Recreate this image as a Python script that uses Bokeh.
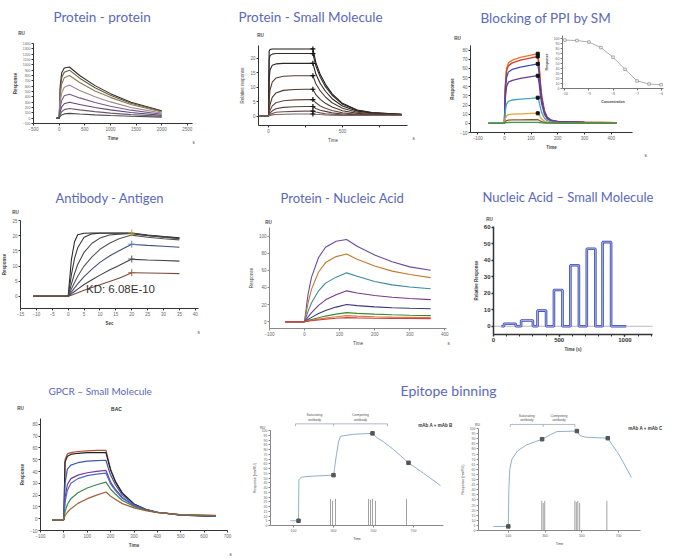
from bokeh.plotting import figure
from bokeh.models import Label, FixedTicker, Range1d, LinearAxis
from bokeh.embed import file_html
from bokeh.resources import INLINE

# ---------------- data ----------------
# Protein - protein
PP_T = [-50, 0, 20, 50, 100, 200, 400, 700, 1000, 1400, 2000]
PP_R = [
    [0, 0, 600, 850, 940, 960, 800, 610, 460, 300, 140],
    [0, 0, 520, 760, 860, 900, 750, 570, 430, 280, 130],
    [0, 0, 420, 640, 760, 800, 670, 510, 390, 255, 115],
    [0, 0, 300, 470, 580, 620, 520, 400, 305, 200, 95],
    [0, 0, 200, 330, 420, 450, 380, 295, 225, 150, 72],
    [0, 0, 120, 210, 270, 300, 255, 200, 155, 105, 52],
    [0, 0, 70, 120, 160, 180, 155, 122, 95, 66, 35],
    [0, 0, 35, 60, 80, 90, 78, 62, 50, 35, 20],
]
PP_COL = ["#2b2b2b", "#6b5a3a", "#8a7a5a", "#a08a8a", "#7a5a8a", "#5a4a7a", "#6a5a6a", "#4a4a4a"]

# Protein - Small Molecule
SM_T = [-60, 0, 4, 10, 25, 50, 100, 175, 250, 300, 320, 350, 385, 430, 500, 600, 700, 900]
SM_R = [
    [0, 0, 22.5, 23.1, 23.3, 23.3, 23.3, 23.3, 23.3, 23.3, 18.6, 14.4, 11.0, 7.7, 4.4, 2.1, 1.2, 0.6],
    [0, 0, 19.5, 21.0, 21.5, 21.7, 21.7, 21.7, 21.7, 21.7, 17.4, 13.5, 10.2, 7.2, 4.1, 2.0, 1.1, 0.6],
    [0, 0, 12.5, 16.0, 17.6, 18.1, 18.3, 18.3, 18.3, 18.3, 14.6, 11.3, 8.6, 6.0, 3.5, 1.7, 1.0, 0.5],
    [0, 0, 5.5, 9.0, 11.8, 13.2, 13.8, 14.0, 14.0, 14.0, 11.2, 8.7, 6.6, 4.6, 2.7, 1.3, 0.8, 0.5],
    [0, 0, 2.0, 4.0, 6.5, 8.0, 8.9, 9.2, 9.3, 9.3, 7.4, 5.8, 4.4, 3.1, 1.8, 0.9, 0.6, 0.4],
    [0, 0, 0.9, 2.0, 3.5, 4.6, 5.3, 5.6, 5.7, 5.7, 4.6, 3.5, 2.7, 1.9, 1.1, 0.6, 0.4, 0.3],
    [0, 0, 0.4, 1.0, 1.8, 2.5, 3.0, 3.2, 3.3, 3.3, 2.6, 2.0, 1.6, 1.1, 0.7, 0.4, 0.3, 0.3],
    [0, 0, 0.2, 0.5, 0.9, 1.3, 1.5, 1.6, 1.7, 1.7, 1.4, 1.1, 0.8, 0.6, 0.4, 0.3, 0.2, 0.2],
    [0, 0, 0.1, 0.2, 0.4, 0.5, 0.6, 0.7, 0.7, 0.7, 0.6, 0.5, 0.4, 0.3, 0.2, 0.2, 0.2, 0.2],
]
SM_COL = ["#1a1a1a", "#3a2a20", "#2a2a2a", "#5a3a2a", "#4a3a30", "#6a4a3a", "#5a4040", "#705050", "#806060"]
SM_END = 300

# Blocking of PPI by SM
PPI_T = [-60, 0, 3, 8, 15, 30, 60, 100, 125, 130, 135, 140, 150, 160, 175, 200, 300, 420]
PPI_R = [
    [0, 0, 40, 60, 66, 69, 72, 74.5, 76, 65, 45, 30, 14, 7, 3.5, 2, 1.2, 0.8],
    [0, 0, 38, 57, 63, 66, 69, 71.5, 73, 62, 43, 29, 13.5, 6.8, 3.4, 2, 1.2, 0.8],
    [0, 0, 33, 50, 56, 59, 61.5, 63.5, 65, 55, 38, 26, 12, 6, 3, 1.8, 1.1, 0.7],
    [0, 0, 26, 40, 45, 47, 49, 51, 52, 44, 30, 21, 9.8, 5, 2.6, 1.6, 1, 0.7],
    [0, 0, 13, 21, 24, 25.5, 26.5, 27.3, 28, 24, 17, 11.5, 5.5, 2.9, 1.6, 1.1, 0.8, 0.6],
    [0, 0, 5, 8, 9.5, 10, 10.4, 10.8, 11, 9.5, 6.8, 4.7, 2.4, 1.4, 0.9, 0.7, 0.6, 0.5],
    [0, 0, 1.8, 3, 3.5, 3.7, 3.8, 3.9, 4, 3.4, 2.5, 1.8, 1, 0.7, 0.5, 0.4, 0.4, 0.3],
    [0, 0, 0.5, 0.8, 0.9, 0.95, 1, 1, 1, 0.9, 0.7, 0.5, 0.4, 0.3, 0.3, 0.2, 0.2, 0.2],
]
PPI_COL = ["#e8762c", "#d03a2a", "#3a4fb8", "#6a3a9a", "#3aaabb", "#e8a23a", "#8a5a2a", "#3a9a4a"]
PPI_END = 125
INS_C = [-10, -9.5, -9, -8.5, -8, -7.5, -7, -6.5, -6]
INS_R = [96, 95, 92, 81, 62, 38, 15, 9, 7.5]

# Antibody - Antigen
AA_T = [-11, 0, 0.5, 1, 2, 3, 5, 7.5, 10, 13, 16, 20, 20.5, 25, 30, 35]
AA_R = [
    [0, 0, 6, 12, 18, 20.3, 20.8, 20.9, 20.9, 20.9, 20.9, 20.9, 20.8, 20.2, 19.7, 19.3],
    [0, 0, 3.5, 7, 12.5, 16, 19.5, 20.6, 20.8, 20.8, 20.8, 20.8, 20.7, 20.1, 19.6, 19.2],
    [0, 0, 2, 4, 7.5, 10.5, 14.5, 17.5, 19.2, 20.2, 20.5, 20.7, 20.6, 20.0, 19.5, 19.0],
    [0, 0, 1.2, 2.4, 4.6, 6.6, 10, 13, 15.5, 17.5, 19, 20.2, 20.1, 19.5, 19.0, 18.6],
    [0, 0, 0.7, 1.4, 2.8, 4.1, 6.5, 9, 11.2, 13.3, 15, 17.2, 17.1, 16.8, 16.5, 16.2],
    [0, 0, 0.4, 0.8, 1.6, 2.4, 3.9, 5.5, 7, 8.7, 10.2, 12.3, 12.2, 12.0, 11.8, 11.6],
    [0, 0, 0.2, 0.4, 0.8, 1.2, 2, 2.9, 3.8, 4.9, 6, 7.8, 7.8, 7.7, 7.6, 7.5],
]
AA_COL = ["#2a2a2a", "#3a3a3a", "#474747", "#555555", "#3f4f7f", "#404040", "#7a4a3a"]
AA_END = 20
AA_MARK_COL = ["#c8a030", None, None, None, "#6080c0", "#555555", "#a06040"]

# Protein - Nucleic Acid
PNA_T = [-55, 0, 10, 20, 40, 60, 90, 120, 150, 200, 250, 300, 360]
PNA_R = [
    [0, 0, 32, 52, 75, 87, 94, 96, 88, 78, 70, 64, 60],
    [0, 0, 22, 38, 58, 69, 76, 79, 73, 65, 59, 55, 51.4],
    [0, 0, 12, 22, 36, 45, 52, 57, 53, 47, 43, 40.5, 38.5],
    [0, 0, 5.5, 10.5, 19, 25.5, 31.5, 36, 33.5, 30.5, 28.5, 27, 25.7],
    [0, 0, 2.6, 5, 9.5, 13, 17, 20, 18.7, 17.3, 16.3, 15.6, 15],
    [0, 0, 1.2, 2.4, 4.6, 6.5, 8.8, 10.5, 9.7, 8.8, 8, 7.5, 7],
    [0, 0, 0.8, 1.6, 3, 4.3, 5.8, 7, 6.5, 5.8, 5.3, 5, 4.7],
    [0, 0, 0.5, 1, 2, 2.9, 3.9, 4.7, 4.4, 4, 3.8, 3.6, 3.5],
]
PNA_COL = ["#6a4aa0", "#c07a30", "#3a8aa0", "#7a3a8a", "#3a3a7a", "#3a8a3a", "#e07a3a", "#d04040"]

# Nucleic Acid - Small Molecule
NA_ON = [80, 210, 335, 460, 585, 710, 830]
NA_OFF = [170, 300, 400, 525, 650, 775, 895]
NA_LEVEL = [1.5, 3.5, 9.5, 22, 37, 47, 51]
NA_START, NA_STOP = 60, 1010

# GPCR - Small Molecule
GP_T = [-50, -1, 0, 5, 15, 30, 60, 100, 140, 180, 190, 200, 220, 250, 300, 350, 400, 500, 650]
GP_R = [
    [-1.5, -1.5, 0, 50, 55, 56, 57, 57.5, 58, 58, 50, 42, 32, 22, 12.5, 8, 5.5, 3, 2],
    [-1, -1, 0, 48, 53, 54.5, 55.5, 56, 56, 56, 48.5, 41, 31.5, 21.5, 12.5, 8, 5.5, 3, 2],
    [-1, -1, 0, 30, 42, 45.5, 47.5, 48.8, 49.3, 49.6, 43, 37, 29, 20, 12, 7.8, 5.5, 3.2, 2.2],
    [-1, -1, 0, 18, 29, 34, 37, 39, 40.2, 41, 36, 31, 25, 18, 11.2, 7.5, 5.3, 3.2, 2.3],
    [-1, -1, 0, 14, 24, 30, 34, 36.5, 37.8, 38.7, 34, 29.5, 24, 17.3, 11, 7.4, 5.3, 3.2, 2.4],
    [-1, -1, 0, 6, 12, 17, 22, 26, 28.8, 31, 28, 25, 21, 15.5, 10.3, 7.2, 5.3, 3.3, 2.6],
    [-1, -1, 0, 2.5, 5.5, 8.5, 13, 17, 20, 22.7, 21, 19, 16.5, 12.8, 9.2, 6.8, 5.2, 3.5, 2.8],
]
GP_COL = ["#b0503a", "#222222", "#3a5ab0", "#7a3a9a", "#4a6ac8", "#3a8a4a", "#a0603a"]

# Epitope binning
EPI1_T = [85, 125, 127, 140, 200, 300, 305, 315, 325, 335, 400, 495, 520, 550, 600, 675, 750, 835]
EPI1_R = [5, 5, 48, 51, 52, 53, 60, 75, 88, 94, 96, 97, 92, 88, 80, 66, 55, 42]
EPI1_MT = [125, 300, 495, 675]
EPI1_MR = [5, 53, 97, 66]
EPI1_ST = [285, 295, 310, 475, 485, 495, 510, 665]
EPI1_SH = [28, 26, 28, 28, 27, 28, 26, 28]
EPI1_PH = [110, 300, 570]
EPI2_T = [19, 100, 103, 108, 120, 150, 200, 284, 330, 365, 473, 490, 520, 641, 700, 770]
EPI2_R = [4, 4, 40, 60, 70, 78, 84, 89.5, 94, 97, 97.5, 93, 91.5, 90.5, 75, 52]
EPI2_MT = [100, 284, 473, 641]
EPI2_MR = [4, 89.5, 97.5, 90.5]
EPI2_ST = [282, 290, 298, 462, 470, 478, 488, 636]
EPI2_SH = [29, 27, 29, 29, 28, 29, 27, 29]
EPI2_PH = [111, 290, 462]
EPI_PH_LABELS = ["Saturating\nantibody", "Competing\nantibody"]

# ---------------- page geometry (pixels) ----------------
W, H = 677, 559
TITLE_COLOR = "#5a68bd"

p = figure(width=W, height=H, x_range=Range1d(0, W), y_range=Range1d(H, 0),
           output_backend="svg", toolbar_location=None,
           x_axis_location=None, y_axis_location=None,
           min_border=0, min_border_left=0, min_border_right=0,
           min_border_top=0, min_border_bottom=0)
p.outline_line_color = None
p.grid.visible = False
p.background_fill_color = "white"
p.border_fill_color = "white"


def style_axis(ax, fs, lab_fs, color, bold, lw, minor):
    ax.axis_line_color = color
    ax.axis_line_width = lw
    ax.major_tick_line_color = color
    ax.major_tick_line_width = lw
    ax.major_tick_out = 2
    ax.major_tick_in = 0
    if minor:
        ax.minor_tick_line_color = color
        ax.minor_tick_out = 2
        ax.minor_tick_in = 0
    else:
        ax.minor_tick_line_color = None
    ax.major_label_text_font = "Liberation Sans"
    ax.major_label_text_font_size = fs
    ax.major_label_text_color = "#666666"
    ax.major_label_standoff = 1
    ax.axis_label_text_font = "Liberation Sans"
    ax.axis_label_text_font_size = lab_fs
    ax.axis_label_text_font_style = "bold" if bold else "normal"
    ax.axis_label_text_color = "#444444"
    ax.axis_label_standoff = 2


def panel(name, box, xr, yr, xticks, yticks, xlabel, ylabel, xminor=None,
          fs="4.5px", yfs=None, lab_fs="4.5px", color="#333333", bold=True, lw=1):
    left, right, top, bottom = box
    x0, x1 = xr
    y0, y1 = yr
    kx = (right - left) / (x1 - x0)
    ky = (bottom - top) / (y1 - y0)
    p.extra_x_ranges[name] = Range1d(x0 - left / kx, x0 + (W - left) / kx)
    p.extra_y_ranges[name] = Range1d(y0 - (H - bottom) / ky, y0 + bottom / ky)
    xa = LinearAxis(x_range_name=name, y_range_name=name, fixed_location=y0, bounds=(x0, x1),
                    ticker=FixedTicker(ticks=xticks, minor_ticks=xminor or []), axis_label=xlabel)
    ya = LinearAxis(x_range_name=name, y_range_name=name, fixed_location=x0, bounds=(y0, y1),
                    ticker=FixedTicker(ticks=yticks), axis_label=ylabel)
    style_axis(xa, fs, lab_fs, color, bold, lw, bool(xminor))
    style_axis(ya, yfs or fs, lab_fs, color, bold, lw, False)
    p.add_layout(xa, "below")
    p.add_layout(ya, "left")
    return xa, ya


def text(x, y, s, size, color="#444444", font="Liberation Sans", style="normal", align="center"):
    p.add_layout(Label(x=x, y=y, text=s, text_font=font, text_font_size=size, text_color=color,
                       text_font_style=style, text_align=align, text_baseline="middle"))


def title(x, y, s, size="13.5px"):
    text(x, y, s, size, color=TITLE_COLOR, font="Lato", align="left")


def curves(name, t, rows, cols, width=1.1):
    for r, c in zip(rows, cols):
        p.line(t, r, line_color=c, line_width=width, x_range_name=name, y_range_name=name)


# ---------------- Protein - protein ----------------
title(53, 16, "Protein - protein")
panel("pp", (33, 192, 43, 123), (-500, 2600), (-100, 1400),
      [-500, 0, 500, 1000, 1500, 2000, 2500], list(range(-100, 1401, 100)),
      "Time", "Response", yfs="3.5px")
curves("pp", PP_T, PP_R, PP_COL)
text(21, 33, "RU", "4.5px", style="bold")
text(193, 142, "s", "4.5px")

# ---------------- Protein - Small Molecule ----------------
title(238, 16, "Protein -  Small Molecule")
panel("sm", (258, 407, 45, 125), (-68, 940), (-3.3, 24.5), [0, 500], [0, 5, 10, 15, 20],
      "Time", "Relative response", xminor=[250, 750], bold=False)
curves("sm", SM_T, SM_R, SM_COL)
p.scatter([SM_END] * len(SM_R), [r[SM_T.index(SM_END)] for r in SM_R], marker="cross",
          size=5, line_color="#111111", line_width=1.2, x_range_name="sm", y_range_name="sm")
text(260, 35, "RU", "4.5px", style="bold")
text(413, 138, "s", "4.5px")

# ---------------- Blocking of PPI by SM ----------------
title(480, 17, "Blocking of PPI by SM")
panel("ppi", (470, 632, 45, 132), (-127, 480), (-10, 85), [-100, 0, 100, 200, 300, 400],
      list(range(-10, 81, 10)), "Time", "Response")
curves("ppi", PPI_T, PPI_R, PPI_COL, 1.3)
p.scatter([PPI_END] * 6, [r[PPI_T.index(PPI_END)] for r in PPI_R[:6]], marker="square",
          size=3, color="#111111", x_range_name="ppi", y_range_name="ppi")
text(457, 38, "RU", "4.5px", style="bold")
text(645, 155, "s", "4.5px")
# inset: dose response
panel("ins", (562, 663, 35, 88), (-10.1, -5.9), (0, 105), [-10, -9, -8, -7, -6],
      list(range(0, 101, 10)), "Concentration", "Response", fs="3.5px", lab_fs="3.5px",
      color="#777777")
p.line(INS_C, INS_R, line_color="#999999", line_width=0.8, x_range_name="ins", y_range_name="ins")
p.scatter(INS_C, INS_R, marker="square", size=2.5, fill_color="white", line_color="#777777",
          line_width=0.6, x_range_name="ins", y_range_name="ins")

# ---------------- Antibody - Antigen ----------------
title(55, 197, "Antibody - Antigen", "13px")
panel("aa", (20, 198, 220, 308), (-15, 41), (-4, 25), list(range(-15, 41, 5)),
      [0, 5, 10, 15, 20, 25], "Sec", "Response")
curves("aa", AA_T, AA_R, AA_COL)
for r, mc in zip(AA_R, AA_MARK_COL):
    if mc:
        p.scatter([AA_END], [r[AA_T.index(AA_END)]], marker="cross", size=7, line_color=mc,
                  line_width=1, x_range_name="aa", y_range_name="aa")
text(120, 288, "KD: 6.08E-10", "11.5px", color="#333333")
text(15, 212, "RU", "4.5px", style="bold")
text(198, 332, "s", "4.5px")

# ---------------- Protein - Nucleic Acid ----------------
title(280, 197, "Protein - Nucleic Acid", "13px")
panel("pna", (269, 446, 227, 328), (-100, 405), (-8, 110), [-100, 0, 100, 200, 300, 400],
      [0, 20, 40, 60, 80, 100], "Time", "Response", color="#888888", bold=False)
curves("pna", PNA_T, PNA_R, PNA_COL)
text(268, 222, "RU", "4.5px", style="bold")
text(448, 343, "s", "4.5px")

# ---------------- Nucleic Acid - Small Molecule ----------------
title(482, 196, "Nucleic Acid \u2013 Small Molecule", "13px")
ax6, ay6 = panel("na", (493, 652, 226, 334), (0, 1210), (-5, 60.5), [0, 500, 1000],
                 [0, 10, 20, 30, 40, 50, 60], "Time (s)", "Relative Response",
                 xminor=list(range(100, 1201, 100)), fs="6px", lw=1.5)
for a in (ax6, ay6):
    a.major_label_text_font_style = "bold"
    a.major_label_text_color = "#333333"
p.segment([0], [0], [1210], [0], line_color="#bbbbbb", line_width=1, x_range_name="na", y_range_name="na")
na_x = [NA_START]
na_y = [0]
for on, off, lv in zip(NA_ON, NA_OFF, NA_LEVEL):
    na_x += [on, on, off, off]
    na_y += [0, lv, lv, 0]
na_x.append(NA_STOP)
na_y.append(0)
p.line(na_x, na_y, line_color="#3f4db3", line_width=2.6, x_range_name="na", y_range_name="na")
p.line(na_x, na_y, line_color="#c0c6ee", line_width=0.8, x_range_name="na", y_range_name="na")
text(489, 219, "RU", "4.5px", style="bold")

# ---------------- GPCR - Small Molecule ----------------
title(48, 390, "GPCR \u2013 Small Molecule", "10px")
panel("gp", (40, 227, 418, 530), (-100, 700), (-10, 85), list(range(-100, 701, 100)),
      list(range(-10, 81, 10)), "Time", "Response")
curves("gp", GP_T, GP_R, GP_COL, 1.2)
text(116, 408, "BAC", "5px", color="#333333", style="bold")
text(20, 408, "RU", "4.5px", style="bold")
text(230, 554, "s", "4.5px")

# ---------------- Epitope binning ----------------
title(400, 390, "Epitope binning", "14px")


def epitope(name, box, xr, t, r, mt, mr, st, sh, ph, bar_y):
    panel(name, box, xr, (0, 100), [100, 300, 500, 700], list(range(0, 101, 5)),
          "Time", "Response (nm/RU)", fs="3.5px", lab_fs="3.5px", color="#888888", bold=False)
    kw = dict(x_range_name=name, y_range_name=name)
    p.segment(st, [0] * len(st), st, sh, line_color="#8a8a8a", line_width=0.8, **kw)
    p.line(t, r, line_color="#8fb0d0", line_width=1, **kw)
    p.scatter(mt, mr, marker="square", size=3.5, color="#555555", **kw)
    p.segment([ph[0]], [bar_y], [ph[-1]], [bar_y], line_color="#8a9ab0", line_width=0.7, **kw)
    p.segment(ph, [bar_y] * len(ph), ph, [bar_y - 2.5] * len(ph), line_color="#8a9ab0",
              line_width=0.7, **kw)
    for a, b, txt in zip(ph[:-1], ph[1:], EPI_PH_LABELS):
        p.add_layout(Label(x=(a + b) / 2, y=bar_y, y_offset=2, text=txt, text_font="Liberation Sans",
                           text_font_size="3.5px", text_color="#555555", text_align="center",
                           text_baseline="bottom", **kw))


epitope("e1", (270, 443, 430, 525), (-15, 850), EPI1_T, EPI1_R, EPI1_MT, EPI1_MR,
        EPI1_ST, EPI1_SH, EPI1_PH, 107)
text(452, 425, "mAb A + mAb B", "4.5px", color="#333333", style="bold", align="right")
text(262, 427, "RU", "3.5px")
epitope("e2", (478, 640, 428, 530), (-62, 819), EPI2_T, EPI2_R, EPI2_MT, EPI2_MR,
        EPI2_ST, EPI2_SH, EPI2_PH, 104)
text(662, 428, "mAb A + mAb C", "4.5px", color="#333333", style="bold", align="right")
text(477, 424, "RU", "3.5px")

open("out.html", "w").write(file_html(p, INLINE, "SPR applications"))
